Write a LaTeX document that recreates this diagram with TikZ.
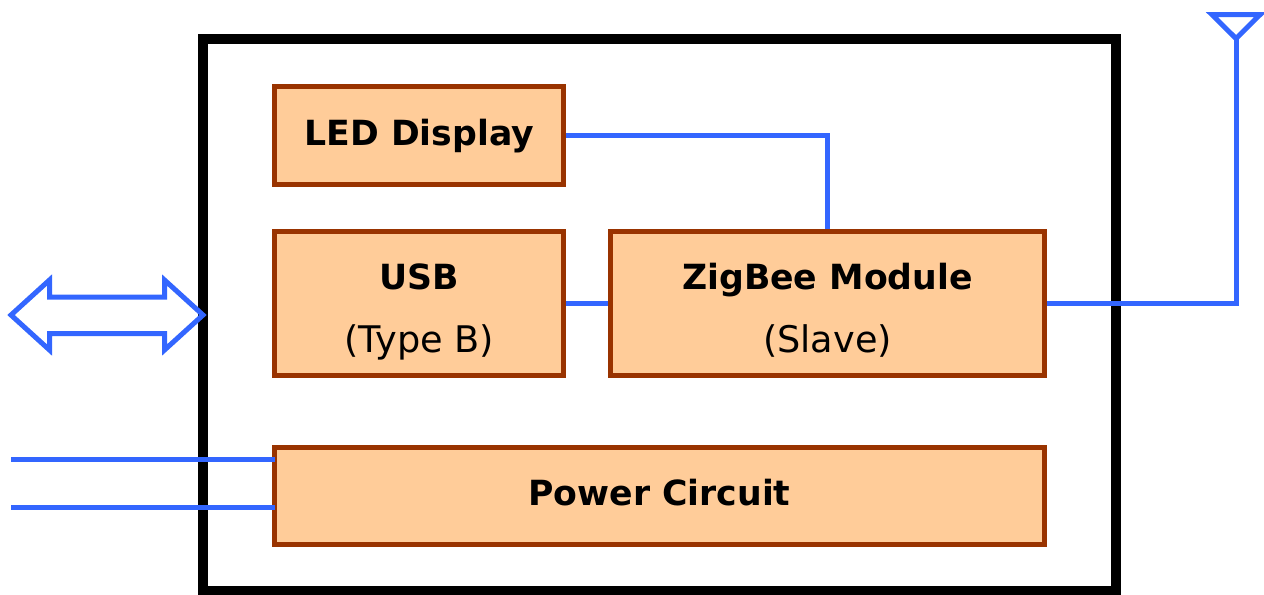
\documentclass[tikz,border=0pt]{standalone}
\usepackage{fontspec}
\setmainfont{DejaVu Sans}
\definecolor{wireblue}{RGB}{51,102,255}
\definecolor{blockedge}{RGB}{153,51,0}
\definecolor{blockfill}{RGB}{255,204,153}
\newcommand{\blocktitle}[1]{{\fontsize{26pt}{47pt}\selectfont\bfseries #1}}
\newcommand{\blocknote}[1]{{\fontsize{27.5pt}{47pt}\selectfont #1}}
\tikzset{
  blockbox/.style={draw=blockedge,fill=blockfill,line width=3.75pt,inner sep=0pt,align=center,font=\fontsize{26pt}{47.25pt}\selectfont},
  wire/.style={draw=wireblue,line width=3.75pt},
  hollow/.style={draw=wireblue,line width=3.75pt,miter limit=10},
}
\begin{document}
\begin{tikzpicture}[x=0.75pt,y=0.75pt,yscale=-1,xscale=1]
\useasboundingbox (0,0) rectangle (1264,594);
%Outer case
\node (caseBox) [draw=black,line width=7.5pt,minimum width=684.4pt,minimum height=414pt,inner sep=0pt] at (659.25,315) {};

%Blocks
\node (ledDisplay) [blockbox,minimum width=216.5pt,minimum height=73pt,text height=20.5pt] at (419.3,135.5) {\blocktitle{LED Display}};
\node (usbBlock) [blockbox,minimum width=216.5pt,minimum height=107.5pt,text height=79.5pt] at (419.3,303.5) {\blocktitle{USB}\\\blocknote{(Type B)}};
\node (zigbeeBlock) [blockbox,minimum width=325pt,minimum height=107.5pt,text height=77.5pt] at (827.5,303.5) {\blocktitle{ZigBee Module}\\\blocknote{(Slave)}};
\node (powerBlock) [blockbox,minimum width=577pt,minimum height=73pt,text depth=6pt] at (659.5,496) {\blocktitle{Power Circuit}};

%Free ends
\coordinate (antennaFoot) at (1236,38.5);
\coordinate (powerInA) at (11,459.5);
\coordinate (powerInB) at (11,507.5);

%Wires
\draw [wire] (ledDisplay.east) -| (zigbeeBlock.north);
\draw [wire] (usbBlock) -- (zigbeeBlock);
\draw [wire] (zigbeeBlock.east) -| (antennaFoot);
\draw [wire,shorten >=-1.9pt] (powerInA) -- (powerInA -| powerBlock.west);
\draw [wire,shorten >=-1.9pt] (powerInB) -- (powerInB -| powerBlock.west);

%Antenna
\draw [hollow] (1212,14.7) -- (1260,14.7) -- (antennaFoot) -- cycle;

%Double arrow
\draw [hollow] (11,315) -- (49.5,280) -- (49.5,297) -- (164.5,297) -- (164.5,280) -- (203,315) -- (164.5,350) -- (164.5,333.5) -- (49.5,333.5) -- (49.5,350) -- cycle;

\end{tikzpicture}
\end{document}
